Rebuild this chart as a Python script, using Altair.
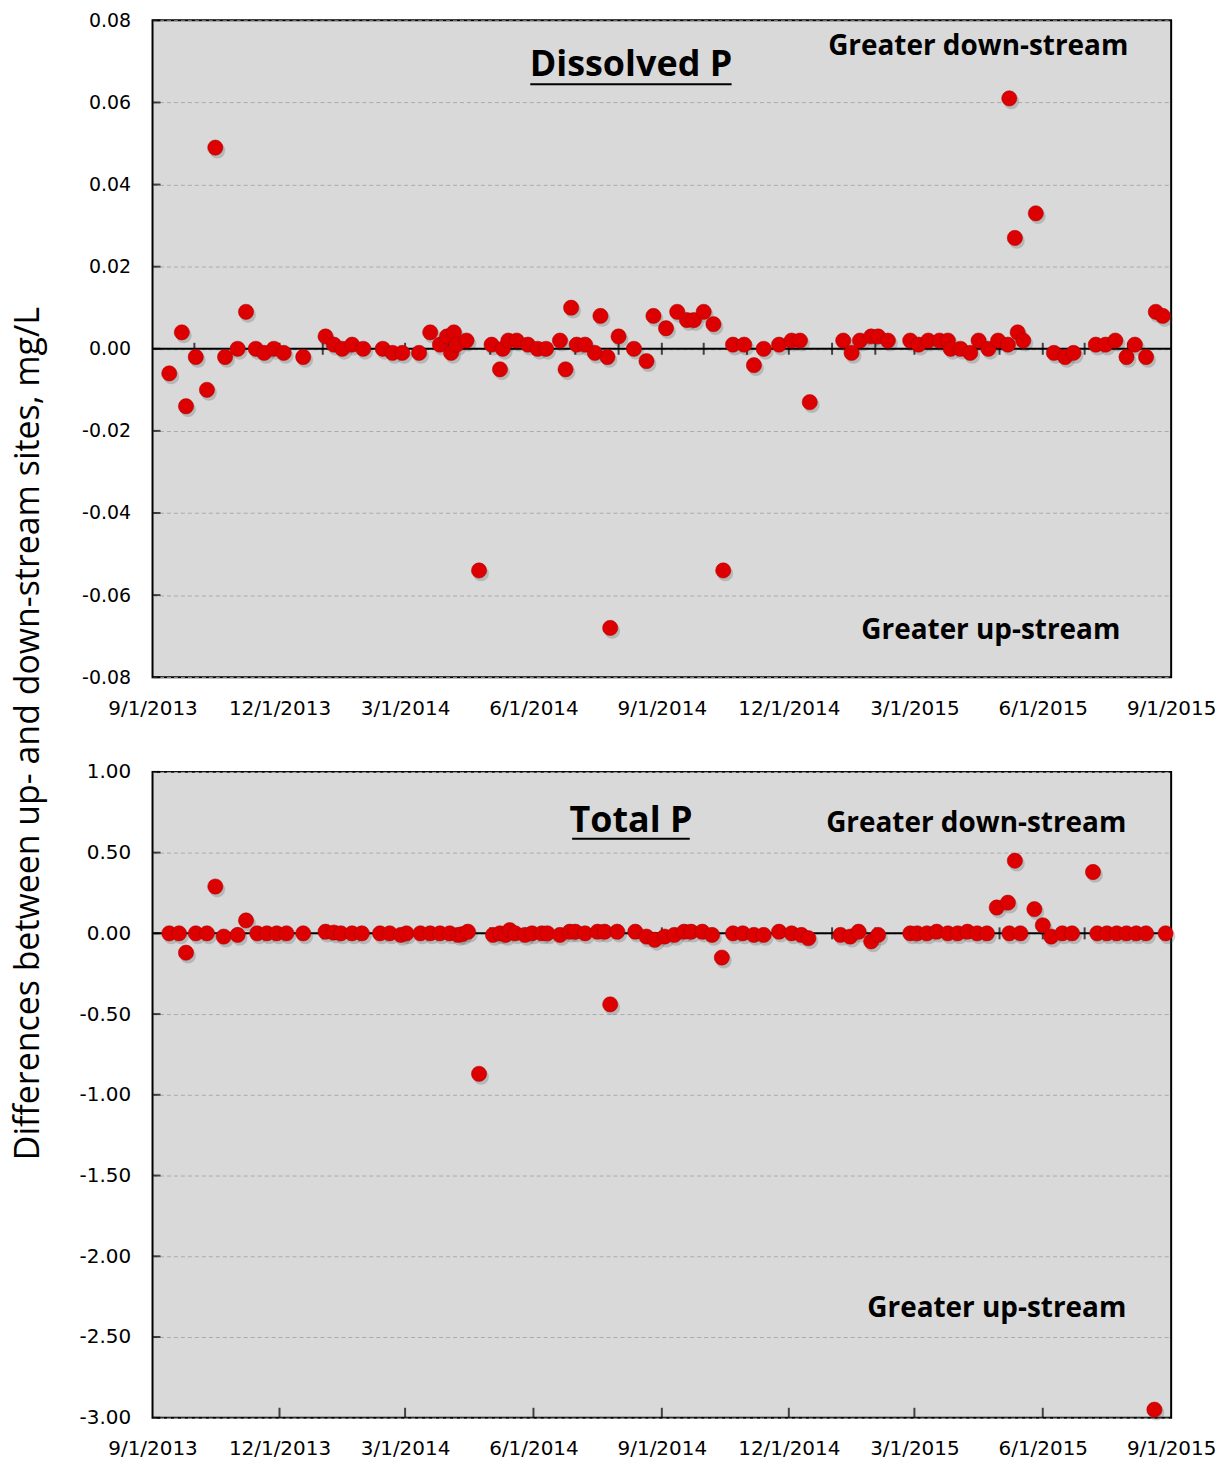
import altair as alt
import pandas as pd

# ---------------- data ----------------
dp_dates = [
    "2013-09-13", "2013-09-22", "2013-09-25", "2013-10-02", "2013-10-10", "2013-10-16",
    "2013-10-23", "2013-11-01", "2013-11-07", "2013-11-14", "2013-11-20", "2013-11-27",
    "2013-12-04", "2013-12-18", "2014-01-03", "2014-01-09", "2014-01-15", "2014-01-22",
    "2014-01-30", "2014-02-13", "2014-02-20", "2014-02-27", "2014-03-11", "2014-03-19",
    "2014-03-26", "2014-03-31", "2014-04-03", "2014-04-05", "2014-04-07", "2014-04-14",
    "2014-04-23", "2014-05-02", "2014-05-08", "2014-05-10", "2014-05-14", "2014-05-20",
    "2014-05-28", "2014-06-04", "2014-06-10", "2014-06-20", "2014-06-24", "2014-06-28",
    "2014-07-02", "2014-07-08", "2014-07-15", "2014-07-19", "2014-07-24", "2014-07-26",
    "2014-08-01", "2014-08-12", "2014-08-21", "2014-08-26", "2014-09-04", "2014-09-12",
    "2014-09-19", "2014-09-24", "2014-10-01", "2014-10-08", "2014-10-15", "2014-10-22",
    "2014-10-30", "2014-11-06", "2014-11-13", "2014-11-24", "2014-12-03", "2014-12-09",
    "2014-12-16", "2015-01-09", "2015-01-15", "2015-01-21", "2015-01-29", "2015-02-03",
    "2015-02-10", "2015-02-26", "2015-03-04", "2015-03-11", "2015-03-19", "2015-03-25",
    "2015-03-27", "2015-04-03", "2015-04-10", "2015-04-16", "2015-04-23", "2015-04-30",
    "2015-05-08", "2015-05-07", "2015-05-12", "2015-05-14", "2015-05-18", "2015-05-27",
    "2015-06-09", "2015-06-17", "2015-06-23", "2015-07-09", "2015-07-16", "2015-07-23",
    "2015-07-31", "2015-08-06", "2015-08-14", "2015-08-21", "2015-08-26",
]
dp_values = [
    -0.006, 0.004, -0.014, -0.002, -0.010, 0.049,
    -0.002, 0.000, 0.009, 0.000, -0.001, 0.000,
    -0.001, -0.002, 0.003, 0.001, 0.000, 0.001,
    0.000, 0.000, -0.001, -0.001, -0.001, 0.004,
    0.001, 0.003, -0.001, 0.004, 0.001, 0.002,
    -0.054, 0.001, -0.005, 0.000, 0.002, 0.002,
    0.001, 0.000, 0.000, 0.002, -0.005, 0.010,
    0.001, 0.001, -0.001, 0.008, -0.002, -0.068,
    0.003, 0.000, -0.003, 0.008, 0.005, 0.009,
    0.007, 0.007, 0.009, 0.006, -0.054, 0.001,
    0.001, -0.004, 0.000, 0.001, 0.002, 0.002,
    -0.013, 0.002, -0.001, 0.002, 0.003, 0.003,
    0.002, 0.002, 0.001, 0.002, 0.002, 0.002,
    0.000, 0.000, -0.001, 0.002, 0.000, 0.002,
    0.061, 0.001, 0.027, 0.004, 0.002, 0.033,
    -0.001, -0.002, -0.001, 0.001, 0.001, 0.002,
    -0.002, 0.001, -0.002, 0.009, 0.008,
]

tp_dates = [
    "2013-09-13", "2013-09-20", "2013-09-25", "2013-10-02", "2013-10-10", "2013-10-16",
    "2013-10-22", "2013-11-01", "2013-11-07", "2013-11-15", "2013-11-22", "2013-11-29",
    "2013-12-06", "2013-12-18", "2014-01-03", "2014-01-09", "2014-01-14", "2014-01-22",
    "2014-01-29", "2014-02-11", "2014-02-18", "2014-02-26", "2014-03-02", "2014-03-12",
    "2014-03-19", "2014-03-26", "2014-04-02", "2014-04-08", "2014-04-11", "2014-04-15",
    "2014-04-23", "2014-05-03", "2014-05-08", "2014-05-12", "2014-05-15", "2014-05-19",
    "2014-05-26", "2014-05-31", "2014-06-07", "2014-06-11", "2014-06-20", "2014-06-27",
    "2014-07-01", "2014-07-08", "2014-07-17", "2014-07-22", "2014-07-26", "2014-07-31",
    "2014-08-13", "2014-08-21", "2014-08-27", "2014-09-03", "2014-09-10", "2014-09-17",
    "2014-09-22", "2014-09-30", "2014-10-07", "2014-10-14", "2014-10-22", "2014-10-29",
    "2014-11-06", "2014-11-13", "2014-11-24", "2014-12-03", "2014-12-10", "2014-12-15",
    "2015-01-07", "2015-01-14", "2015-01-20", "2015-01-29", "2015-02-03", "2015-02-26",
    "2015-03-03", "2015-03-10", "2015-03-17", "2015-03-25", "2015-04-01", "2015-04-08",
    "2015-04-15", "2015-04-22", "2015-04-29", "2015-05-07", "2015-05-08", "2015-05-12",
    "2015-05-16", "2015-05-26", "2015-06-01", "2015-06-07", "2015-06-15", "2015-06-22",
    "2015-07-07", "2015-07-10", "2015-07-17", "2015-07-24", "2015-07-31", "2015-08-07",
    "2015-08-14", "2015-08-20", "2015-08-28",
]
tp_values = [
    0.00, 0.00, -0.12, 0.00, 0.00, 0.29,
    -0.02, -0.01, 0.08, 0.00, 0.00, 0.00,
    0.00, 0.00, 0.01, 0.005, 0.00, 0.00,
    0.00, 0.00, 0.00, -0.01, 0.00, 0.00,
    0.00, 0.00, 0.00, -0.01, -0.005, 0.01,
    -0.87, -0.01, 0.00, -0.01, 0.02, 0.00,
    -0.01, 0.00, 0.00, 0.00, -0.01, 0.01,
    0.01, 0.00, 0.01, 0.01, -0.44, 0.01,
    0.01, -0.02, -0.04, -0.02, -0.01, 0.01,
    0.01, 0.01, -0.01, -0.15, 0.00, 0.00,
    -0.01, -0.01, 0.01, 0.00, -0.01, -0.03,
    -0.01, -0.02, 0.01, -0.05, -0.01, 0.00,
    0.00, 0.00, 0.01, 0.00, 0.00, 0.01,
    0.00, 0.00, 0.16, 0.19, 0.00, 0.45,
    0.00, 0.15, 0.05, -0.02, 0.00, 0.00,
    0.38, 0.00, 0.00, 0.00, 0.00, 0.00,
    0.00, -2.95, 0.00,
]

month_ticks = [
    "2013-10-01", "2013-11-01", "2013-12-01", "2014-01-01", "2014-02-01", "2014-03-01",
    "2014-04-01", "2014-05-01", "2014-06-01", "2014-07-01", "2014-08-01", "2014-09-01",
    "2014-10-01", "2014-11-01", "2014-12-01", "2015-01-01", "2015-02-01", "2015-03-01",
    "2015-04-01", "2015-05-01", "2015-06-01", "2015-07-01", "2015-08-01",
]
quarter_ticks = [
    "2013-09-01", "2013-12-01", "2014-03-01", "2014-06-01", "2014-09-01",
    "2014-12-01", "2015-03-01", "2015-06-01", "2015-09-01",
]
x_start, x_end = "2013-09-01", "2015-09-01"

dp_y_ticks = [0.08, 0.06, 0.04, 0.02, 0.0, -0.02, -0.04, -0.06, -0.08]
tp_y_ticks = [1.0, 0.5, 0.0, -0.5, -1.0, -1.5, -2.0, -2.5, -3.0]

y_title = "Differences between up- and down-stream sites, mg/L"

# ---------------- styling ----------------
LABEL_FONT = "DejaVu Sans"
TITLE_FONT = "Open Sans"
RED = "#dc0000"


def dt(s):
    y, m, d = (int(v) for v in s.split("-"))
    return alt.DateTime(year=y, month=m, date=d)


def panel(dates, values, ydom, yticks, width, height, title, t_pos, down_pos, up_pos,
          underline, bottom_ticks, show_ytitle, xlabel_size, ylabel_size):
    df = pd.DataFrame({"date": pd.to_datetime(dates), "value": values})
    xs = alt.Scale(domain=[dt(x_start), dt(x_end)], nice=False)
    ys = alt.Scale(domain=ydom, nice=False, zero=False)

    xaxis = alt.Axis(
        values=[dt(q) for q in quarter_ticks], format="%-m/%-d/%Y", ticks=False,
        domain=False, grid=False, labelPadding=21, title=None,
        labelFontSize=xlabel_size, labelFont=LABEL_FONT, labelColor="black", labelFlush=False,
    )
    yaxis_kw = dict(
        values=yticks, ticks=False, domain=False, grid=True, gridDash=[4, 3],
        gridColor="#ababab", gridWidth=1, labelPadding=22,
        labelExpr="(datum.value < 0 ? '-' : '') + format(abs(datum.value), '.2f')",
        labelFontSize=ylabel_size, labelFont=LABEL_FONT, labelColor="black",
    )
    if show_ytitle:
        yaxis_kw.update(
            title=y_title, titleFont=TITLE_FONT, titleFontSize=34, titleFontWeight="normal",
            titleColor="black", titleAngle=270, titleX=-124, titleY=715,
            titleAlign="center", titleBaseline="middle",
        )
    else:
        yaxis_kw.update(title=None)
    yaxis = alt.Axis(**yaxis_kw)

    def X(f):
        return alt.X(f, type="temporal", scale=xs, axis=xaxis)

    def Y(f):
        return alt.Y(f, type="quantitative", scale=ys, axis=yaxis)

    base = alt.Chart(df)
    shadow = base.mark_circle(size=250, opacity=0.22, color="#404040", xOffset=2, yOffset=3).encode(
        x=X("date"), y=Y("value")
    )
    zero = alt.Chart(pd.DataFrame({"value": [0.0]})).mark_rule(color="black", strokeWidth=2).encode(
        y=Y("value")
    )
    mdf = pd.DataFrame({"date": pd.to_datetime(month_ticks), "value": 0.0})
    mticks = alt.Chart(mdf).mark_tick(orient="vertical", color="black", thickness=2, size=12).encode(
        x=X("date"), y=Y("value")
    )
    ydf = pd.DataFrame({"date": pd.to_datetime([x_start] * len(yticks)), "value": yticks})
    yticks_l = alt.Chart(ydf).mark_tick(orient="horizontal", color="black", thickness=2,
                                        size=8, xOffset=4).encode(
        x=X("date"), y=Y("value")
    )
    pts = base.mark_circle(size=235, opacity=1, color=RED, stroke="#a80000", strokeWidth=0.5).encode(
        x=X("date"), y=Y("value")
    )
    one = pd.DataFrame({"k": [0]})
    ttl = alt.Chart(one).mark_text(text=title, font=TITLE_FONT, fontWeight="bold", fontSize=36,
                                   align="center", baseline="middle", color="black").encode(
        x=alt.value(t_pos[0]), y=alt.value(t_pos[1]))
    uline = alt.Chart(one).mark_rule(color="black", strokeWidth=2).encode(
        x=alt.value(underline[0]), x2=alt.value(underline[1]), y=alt.value(underline[2]))
    down = alt.Chart(one).mark_text(text="Greater down-stream", font=TITLE_FONT, fontWeight="bold",
                                    fontSize=28, align="right", baseline="middle",
                                    color="black").encode(
        x=alt.value(down_pos[0]), y=alt.value(down_pos[1]))
    up = alt.Chart(one).mark_text(text="Greater up-stream", font=TITLE_FONT, fontWeight="bold",
                                  fontSize=28, align="right", baseline="middle",
                                  color="black").encode(
        x=alt.value(up_pos[0]), y=alt.value(up_pos[1]))

    layers = [shadow, zero, mticks, yticks_l]
    if bottom_ticks:
        qdf = pd.DataFrame({"date": pd.to_datetime(quarter_ticks[1:-1]), "value": ydom[0]})
        qt = alt.Chart(qdf).mark_tick(orient="vertical", color="black", thickness=2, size=10,
                                      yOffset=-5).encode(x=X("date"), y=Y("value"))
        layers.append(qt)
    layers += [pts, ttl, uline, down, up]
    return alt.layer(*layers).properties(width=width, height=height)


top = panel(dp_dates, dp_values, [-0.08, 0.08], dp_y_ticks, 1022, 659, "Dissolved P",
            (480, 45), (979, 27), (971, 613), (379, 581, 64), False, True, 20, 19)
bottom = panel(tp_dates, tp_values, [-3.0, 1.0], tp_y_ticks, 1022, 648, "Total P",
               (480, 49), (977, 52), (977, 539), (421, 539, 67), True, False, 20, 20)

chart = alt.vconcat(
    top, bottom, spacing=95, bounds="flush",
    padding={"left": 3, "top": 0, "right": 0, "bottom": 0},
).configure_view(fill="#d9d9d9", stroke="black", strokeWidth=2)

chart.save("out.html", embed_options={"renderer": "svg", "actions": False})
